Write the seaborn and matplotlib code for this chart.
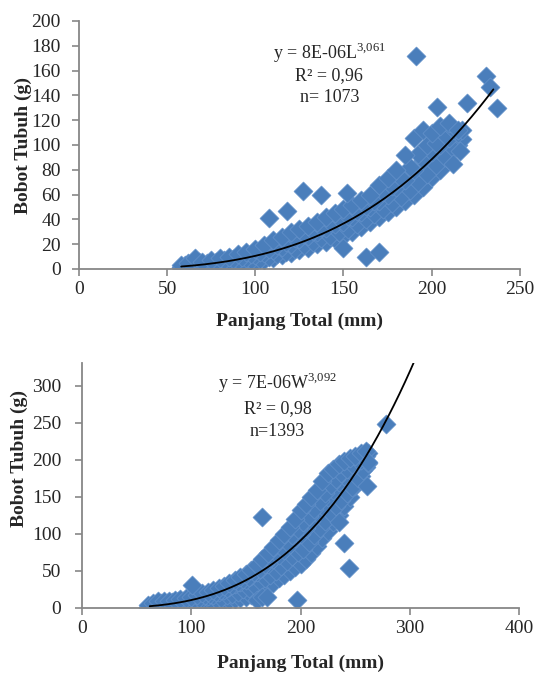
import numpy as np
import pandas as pd
import matplotlib
matplotlib.use('Agg')
import matplotlib.pyplot as plt
import seaborn as sns

# ---- top panel: panjang total (mm) vs bobot tubuh (g), band read in 5 rows ----
top_x = [58, 62, 66, 70, 75, 80, 85, 90, 95, 100, 105, 110, 115, 120, 125, 130, 135, 140,
         145, 150, 155, 160, 165, 170, 175, 180, 185, 190, 195, 200, 205, 210, 215]
# staggered x positions used for rows 2 and 4
top_xs = [60, 64, 68, 72.5, 77.5, 82.5, 87.5, 92.5, 97.5, 102.5, 107.5, 112.5, 117.5, 122.5,
          127.5, 132.5, 137.5, 142.5, 147.5, 152.5, 157.5, 162.5, 167.5, 172.5, 177.5,
          182.5, 187.5, 192.5, 197.5, 202.5, 207.5, 212.5, 217]
top_r1 = [1, 1, 1, 1, 2, 2, 3, 4, 5, 6, 7, 9, 11, 13, 15, 17, 20, 22,
          24, 27, 30, 34, 38, 42, 46, 50, 55, 60, 66, 74, 80, 88, 100]
top_r2 = [2, 2, 2, 2, 3, 3, 4, 5, 7, 8, 10, 12, 14, 16, 19, 22, 25, 27,
          30, 32, 36, 40, 44, 48, 53, 58, 64, 70, 77, 84, 90, 97, 105]
top_r3 = [2, 3, 4, 3, 4, 5, 6, 7, 9, 11, 13, 15, 18, 20, 24, 27, 30, 33,
          36, 38, 42, 46, 50, 55, 60, 66, 72, 80, 88, 94, 100, 106, 110]
top_r4 = [3, 4, 6, 5, 6, 7, 8, 10, 12, 14, 16, 19, 22, 25, 28, 31, 34, 38,
          41, 43, 47, 51, 55, 62, 67, 73, 82, 93, 100, 102, 108, 112, 112]
top_r5 = [3, 5, 9, 6, 7, 9, 10, 12, 14, 16, 19, 23, 26, 30, 32, 35, 38, 42,
          45, 48, 52, 56, 60, 68, 73, 80, 92, 106, 112, 110, 115, 118, 112]
top_out_x = [191, 231, 233, 237, 220, 203, 216, 212, 127, 137, 152, 108, 118, 150, 163, 170]
top_out_y = [172, 156, 147, 130, 134, 131, 95, 85, 63, 60, 61, 41, 47, 17, 10, 14]
top_a, top_b = 8e-06, 3.061

# ---- bottom panel ----
bot_x = [60, 65, 70, 75, 80, 85, 90, 95, 100, 105, 110, 115, 120, 125, 130, 135, 140, 145,
         150, 155, 160, 165, 170, 175, 180, 185, 190, 195, 200, 205, 210, 215, 220, 225,
         230, 235, 240, 245, 250, 255, 260]
bot_xs = [62.5, 67.5, 72.5, 77.5, 82.5, 87.5, 92.5, 97.5, 102.5, 107.5, 112.5, 117.5, 122.5,
          127.5, 132.5, 137.5, 142.5, 147.5, 152.5, 157.5, 162.5, 167.5, 172.5, 177.5,
          182.5, 187.5, 192.5, 197.5, 202.5, 207.5, 212.5, 217.5, 222.5, 227.5, 232.5,
          237.5, 242.5, 247.5, 252.5, 257.5, 262]
bot_r1 = [0, 0, 0, 1, 1, 2, 2, 3, 3, 4, 5, 6, 7, 8, 10, 11, 12, 14,
          15, 18, 22, 26, 30, 34, 40, 45, 50, 55, 60, 66, 74, 84, 94, 104,
          116, 126, 138, 150, 165, 178, 190]
bot_r2 = [1, 1, 2, 3, 3, 4, 5, 6, 6, 8, 9, 11, 12, 14, 17, 19, 22, 25,
          27, 31, 36, 41, 45, 50, 57, 63, 70, 76, 80, 89, 98, 108, 118, 128,
          138, 146, 156, 164, 175, 186, 196]
bot_r3 = [2, 3, 4, 5, 6, 7, 8, 9, 10, 12, 14, 16, 18, 21, 24, 28, 32, 35,
          38, 43, 48, 54, 60, 66, 72, 78, 86, 94, 100, 108, 118, 128, 138, 150,
          160, 170, 178, 186, 194, 200, 206]
bot_r4 = [3, 5, 7, 7, 8, 9, 10, 11, 12, 14, 17, 19, 21, 24, 27, 31, 35, 39,
          42, 48, 53, 60, 67, 74, 82, 89, 98, 107, 116, 124, 134, 144, 155, 166,
          174, 182, 188, 194, 200, 205, 209]
bot_r5 = [4, 7, 9, 9, 10, 11, 12, 13, 15, 17, 20, 22, 24, 27, 30, 34, 38, 42,
          46, 52, 58, 66, 74, 82, 92, 100, 110, 120, 132, 140, 150, 160, 172, 182,
          188, 194, 198, 202, 206, 210, 212]
bot_out_x = [101, 165, 160, 165, 169, 197, 240, 244, 278, 261, 262, 235]
bot_out_y = [31, 123, 11, 15, 15, 11, 88, 54, 248, 165, 197, 116]
bot_a, bot_b = 7e-06, 3.092


def make_df(parts, ox, oy):
    xs, ys = [], []
    for x, r in parts:
        xs += list(x)
        ys += list(r)
    xs += list(ox)
    ys += list(oy)
    return pd.DataFrame({'panjang': xs, 'bobot': ys})


top_df = make_df([(top_x, top_r1), (top_xs, top_r2), (top_x, top_r3), (top_xs, top_r4),
                  (top_x, top_r5)], top_out_x, top_out_y)
bot_df = make_df([(bot_x, bot_r1), (bot_xs, bot_r2), (bot_x, bot_r3), (bot_xs, bot_r4),
                  (bot_x, bot_r5)], bot_out_x, bot_out_y)

sns.set_style('white')
plt.rcParams['font.family'] = ['Liberation Serif', 'DejaVu Serif']
plt.rcParams['mathtext.fontset'] = 'custom'
plt.rcParams['mathtext.rm'] = 'Liberation Serif'

blue = '#4A7EBB'
grey = '#878787'

fig = plt.figure(figsize=(5.37, 6.73), dpi=100)
ax1 = fig.add_axes([0.147, 0.6003, 0.821, 0.3685])
ax2 = fig.add_axes([0.1527, 0.0966, 0.8138, 0.364])


def draw(ax, df, a, b, x0, x1, ypad):
    sns.scatterplot(data=df, x='panjang', y='bobot', ax=ax, marker='D', s=95,
                    color=blue, edgecolor='#6A96CE', linewidth=0.4, zorder=2)
    xx = np.linspace(x0, x1, 200)
    sns.lineplot(x=xx, y=a * xx ** b, ax=ax, color='black', linewidth=1.3, zorder=3)
    for side in ['top', 'right']:
        ax.spines[side].set_visible(False)
    for side in ['left', 'bottom']:
        ax.spines[side].set_color(grey)
        ax.spines[side].set_linewidth(1.3)
    ax.tick_params(axis='both', direction='out', length=5, width=1.2, color=grey,
                   labelsize=14, left=True, bottom=True)
    ax.tick_params(axis='x', pad=4)
    ax.tick_params(axis='y', pad=ypad)


# top
draw(ax1, top_df, top_a, top_b, 58, 235, 8)
ax1.set_xlim(0, 250)
ax1.set_ylim(0, 200)
ax1.set_xticks(range(0, 251, 50))
ax1.set_yticks(range(0, 201, 20))
ax1.set_xlabel('Panjang Total (mm)', fontsize=14, fontweight='bold')
ax1.set_ylabel('Bobot Tubuh (g)', fontsize=14, fontweight='bold')
ax1.yaxis.set_label_coords(-0.107, 0.496)
ax1.xaxis.set_label_coords(0.5, -0.177)
ax1.text(142, 174, r'y = 8E-06L$^{\mathregular{3{,}061}}$', ha='center', va='center', fontsize=13)
ax1.text(142, 156, 'R² = 0,96', ha='center', va='center', fontsize=13)
ax1.text(142, 138, 'n= 1073', ha='center', va='center', fontsize=13)

# bottom
draw(ax2, bot_df, bot_a, bot_b, 62, 312, 10)
ax2.set_xlim(0, 400)
ax2.set_ylim(0, 331)
ax2.set_xticks(range(0, 401, 100))
ax2.set_yticks(range(0, 301, 50))
ax2.set_xlabel('Panjang Total (mm)', fontsize=14, fontweight='bold')
ax2.set_ylabel('Bobot Tubuh (g)', fontsize=14, fontweight='bold')
ax2.yaxis.set_label_coords(-0.124, 0.612)
ax2.xaxis.set_label_coords(0.499, -0.192)
ax2.text(179, 304, r'y = 7E-06W$^{\mathregular{3{,}092}}$', ha='center', va='center', fontsize=13)
ax2.text(179, 269, 'R² = 0,98', ha='center', va='center', fontsize=13)
ax2.text(179, 239, 'n=1393', ha='center', va='center', fontsize=13)

fig.savefig('out.png', dpi=100)
